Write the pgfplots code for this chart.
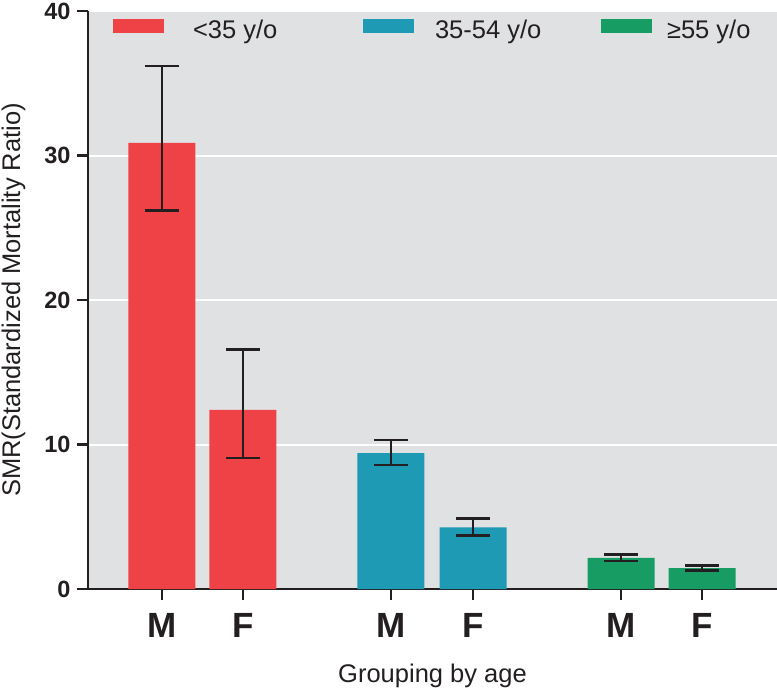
\documentclass[border=0pt]{standalone}
\usepackage{pgfplots}
\usepackage{pgfplotstable}
\pgfplotsset{compat=1.18}
\usepackage{fontspec}
\setmainfont{Liberation Sans}
\definecolor{cred}{HTML}{EF4247}
\definecolor{cteal}{HTML}{1F9AB4}
\definecolor{cgreen}{HTML}{179C63}
\definecolor{bg}{HTML}{E0E1E3}
\definecolor{ink}{HTML}{231F20}

\pgfplotstableread{
x y ep em
0 30.87 5.33 4.67
1 12.40 4.20 3.33
}\young
\pgfplotstableread{
x y ep em
2.827 9.41 0.90 0.83
3.840 4.27 0.60 0.58
}\middle
\pgfplotstableread{
x y ep em
5.667 2.15 0.23 0.21
6.667 1.45 0.16 0.16
}\old

\begin{document}
\begin{tikzpicture}
\begin{axis}[name=ax, scale only axis, width=689pt, height=578pt,
  xmin=-0.9136, xmax=7.593, ymin=0, ymax=40,
  axis x line*=bottom, axis y line*=left,
  axis line style={ink, line width=2.5pt},
  every tick/.style={ink, line width=2.5pt},
  tick align=outside, major tick length=11pt,
  axis background/.style={fill=bg},
  ymajorgrids, grid style={white, line width=2pt},
  ytick={0,10,20,30,40},
  xtick={0,1,2.827,3.840,5.667,6.667},
  xticklabels={M,F,M,F,M,F},
  /pgf/number format/assume math mode=true,
  yticklabel style={font=\bfseries\fontsize{23.5}{28}\selectfont, ink, xshift=-3pt},
  xticklabel style={font=\bfseries\fontsize{35}{40}\selectfont, ink, yshift=-10pt},
  ylabel={SMR(Standardized Mortality Ratio)},
  xlabel={Grouping by age},
  label style={font=\fontsize{25.5}{30}\selectfont, ink},
  ylabel style={yshift=12pt},
  xlabel style={yshift=-20pt},
  legend columns=3,
  legend cell align=left,
  legend style={draw=none, fill=none, at={(0.0363,0.968)}, anchor=west,
    column sep=0pt, inner sep=0pt, outer sep=0pt,
    nodes={inner sep=0pt, outer sep=0pt},
    font=\fontsize{25.5}{30}\selectfont, text=ink},
]
\addplot[ybar, bar shift=0pt, bar width=67pt, fill=cred, draw=none,
  legend image code/.code={\fill[cred] (0pt,-3.6pt) rectangle (51pt,10.4pt);},
  error bars/.cd, y dir=both, y explicit, error mark=|,
  error bar style={ink, line width=2.8pt},
  error mark options={ink, line width=2.8pt, mark size=17pt}]
  table[x=x, y=y, y error plus=ep, y error minus=em]{\young};
\addlegendentry{\makebox[199pt][l]{\hspace{29pt}<35 y/o}}
\addplot[ybar, bar shift=0pt, bar width=67pt, fill=cteal, draw=none,
  legend image code/.code={\fill[cteal] (0pt,-3.6pt) rectangle (51pt,10.4pt);},
  error bars/.cd, y dir=both, y explicit, error mark=|,
  error bar style={ink, line width=2.8pt},
  error mark options={ink, line width=2.8pt, mark size=17pt}]
  table[x=x, y=y, y error plus=ep, y error minus=em]{\middle};
\addlegendentry{\makebox[187pt][l]{\hspace{21pt}35-54 y/o}}
\addplot[ybar, bar shift=0pt, bar width=67pt, fill=cgreen, draw=none,
  legend image code/.code={\fill[cgreen] (0pt,-3.6pt) rectangle (51pt,10.4pt);},
  error bars/.cd, y dir=both, y explicit, error mark=|,
  error bar style={ink, line width=2.8pt},
  error mark options={ink, line width=2.8pt, mark size=17pt}]
  table[x=x, y=y, y error plus=ep, y error minus=em]{\old};
\addlegendentry{\hspace{15pt}≥55 y/o}
\end{axis}
\pgfresetboundingbox
\path[use as bounding box] ([xshift=-88pt,yshift=-102pt]ax.south west) rectangle ([yshift=11pt]ax.north east);
\end{tikzpicture}
\end{document}
